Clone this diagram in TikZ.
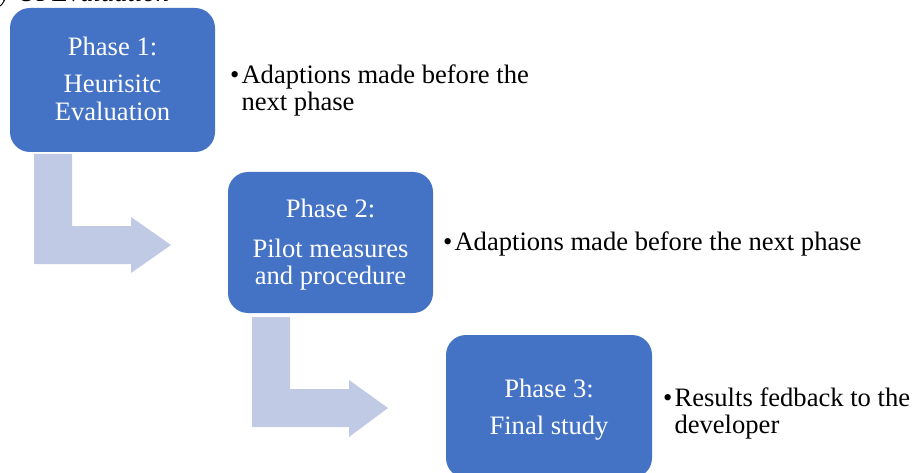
\documentclass[tikz,border=0pt]{standalone}
\usepackage{fontspec}
\setmainfont{Liberation Serif}
\begin{document}
\begin{tikzpicture}[x=1pt,y=-1pt,
  phasebox/.style={fill=phaseblue, rounded corners=20pt},
  flowarrow/.style={fill=arrowblue},
  boxtext/.style={text=white, font=\fontsize{26.6}{28}\selectfont, anchor=base, inner sep=0pt},
  notetext/.style={text=black, font=\fontsize{26.6}{27}\selectfont, anchor=base west, align=left, inner sep=0pt},
]
\definecolor{phaseblue}{HTML}{4472C4}
\definecolor{arrowblue}{HTML}{C0CAE5}
\useasboundingbox (0,0) rectangle (915,473);
\begin{scope}
\clip (0,0) rectangle (915,473);

% caption line above the chart (clipped at the top edge)
\node[font=\fontsize{26.6}{28}\selectfont\itshape, anchor=base west, inner sep=0pt] (caption) at (-1,2) {y UI Evaluation};

% bent block arrows between the phases
\fill[flowarrow] (34,154) coordinate (a1) -- (72,154) -- (72,226) -- (131,226) -- (131,217)
  -- (171,245) coordinate (a1tip) -- (131,273) -- (131,264) -- (34,264) -- cycle;
\fill[flowarrow] (252,317) coordinate (a2) -- (290,317) -- (290,389) -- (349,389) -- (349,380)
  -- (388,408) coordinate (a2tip) -- (349,437) -- (349,427) -- (252,427) -- cycle;

% phase boxes
\path[phasebox] (10,8) rectangle (215,152);
\path[phasebox] (228,172) rectangle (433,313);
\path[phasebox] (446,335) rectangle (652,478);

\node[boxtext] (p1a) at (112.5,56) {Phase 1:};
\node[boxtext] (p1b) at (112.5,93) {Heurisitc};
\node[boxtext] (p1c) at (112.5,121) {Evaluation};

\node[boxtext] (p2a) at (330.5,218) {Phase 2:};
\node[boxtext] (p2b) at (330.5,257) {Pilot measures};
\node[boxtext] (p2c) at (330.5,284) {and procedure};

\node[boxtext] (p3a) at (549,397) {Phase 3:};
\node[boxtext] (p3b) at (549,434) {Final study};

% notes beside the boxes (multi-line nodes sit on their last baseline)
\node[notetext] (n1) at (230,111) {\textbullet\hspace{2pt}Adaptions made before the\\\phantom{\textbullet\hspace{2pt}}next phase};
\node[notetext] (n2) at (443,250) {\textbullet\hspace{2pt}Adaptions made before the next phase};
\node[notetext] (n3) at (663,433) {\textbullet\hspace{2pt}Results fedback to the\\\phantom{\textbullet\hspace{2pt}}developer};
\end{scope}
\end{tikzpicture}
\end{document}
